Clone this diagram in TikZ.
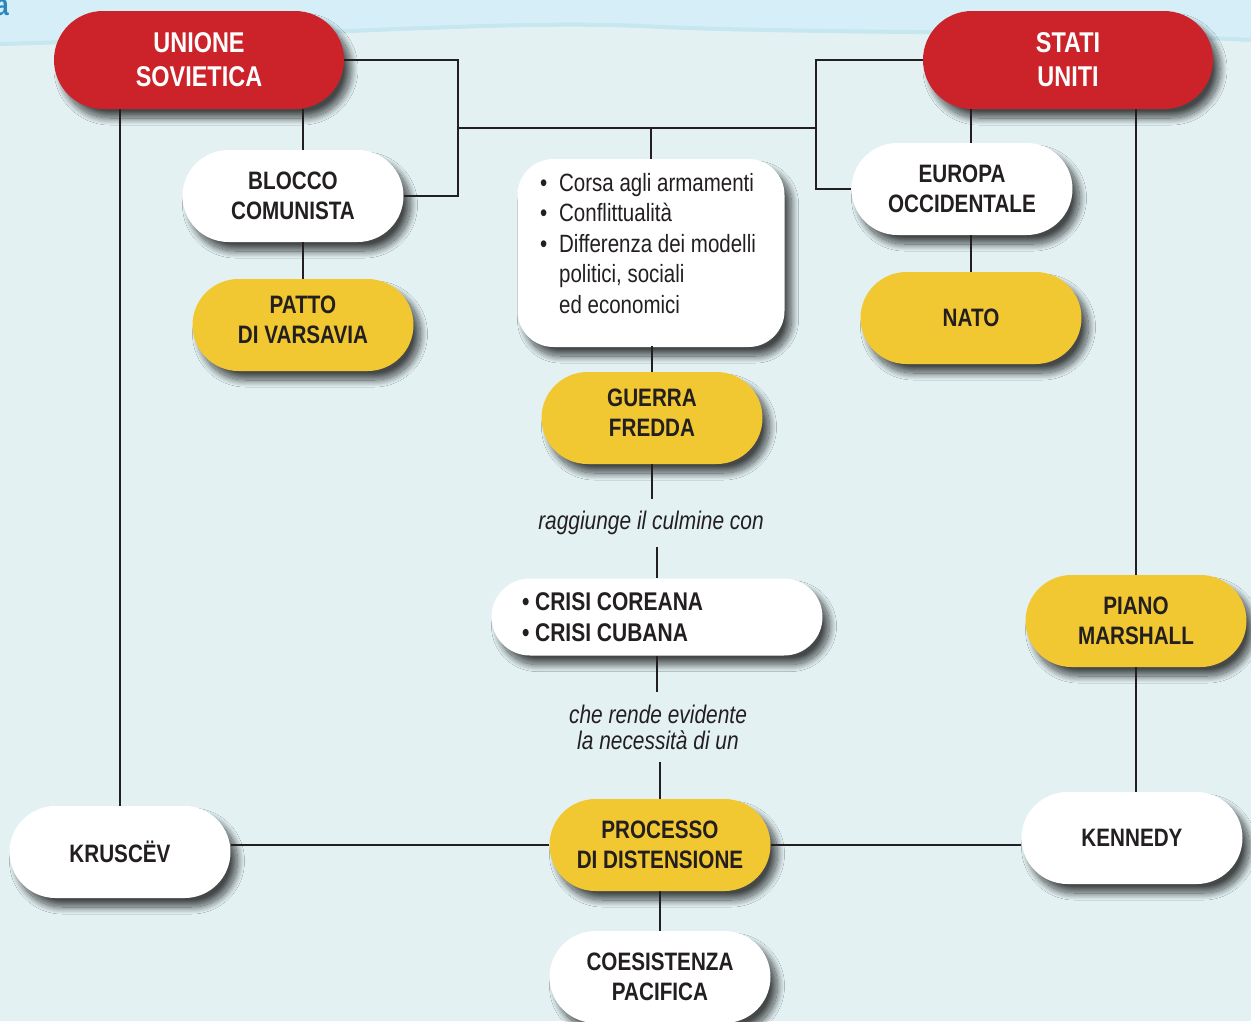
\documentclass[tikz,border=0pt]{standalone}
\usepackage{fontspec}
\setmainfont[FakeStretch=0.82]{Liberation Sans}
\usetikzlibrary{shapes.misc,shadows.blur}
\definecolor{rosso}{HTML}{CC2229}
\definecolor{giallo}{HTML}{F2C832}
\definecolor{fondo}{HTML}{E3F1F3}
\definecolor{onda}{HTML}{D6EEF7}
\definecolor{ondabordo}{HTML}{C6E6F0}
\definecolor{linea}{HTML}{231F20}
\definecolor{titolo}{HTML}{2A86BE}

\begin{document}
\begin{tikzpicture}[x=1pt,y=-1pt,
  every node/.style={font=\fontsize{25.2}{30}\selectfont\bfseries,text=linea,align=center},
  ombra/.style={blur shadow={shadow xshift=7pt,shadow yshift=-9pt,shadow blur radius=7pt,
    shadow blur steps=24,shadow opacity=70}},
  box/.style={shape=rounded rectangle,minimum width=221pt,minimum height=92pt,inner sep=0pt,ombra},
  stato/.style={box,fill=rosso,text=white,minimum width=290pt,minimum height=98pt,
    font=\fontsize{28.6}{34}\selectfont\bfseries},
  bianco/.style={box,fill=white},
  gialla/.style={box,fill=giallo},
  su/.style={text depth=11pt},
  lista/.style={shape=rectangle,rounded corners=36pt,fill=white,minimum width=267pt,minimum height=188pt,
    inner sep=0pt,font=\fontsize{25}{30.5}\selectfont,ombra},
  nota/.style={font=\fontsize{25.5}{26}\selectfont\itshape,inner sep=12pt},
  conn/.style={draw=linea,line width=2.6pt}]
\useasboundingbox (0,0) rectangle (1251,1021);
\fill[fondo] (0,0) rectangle (1251,1021);
\fill[onda] (0,0) -- (1251,0) -- (1251,40) .. controls (1050,30) and (800,34) .. (640,26)
  .. controls (500,20) and (300,36) .. (0,44) -- cycle;
\draw[ondabordo,line width=4pt] (1251,40) .. controls (1050,30) and (800,34) .. (640,26)
  .. controls (500,20) and (300,36) .. (0,44);
\node[anchor=base east,inner sep=0pt,text=titolo,font=\fontsize{30}{30}\selectfont\bfseries] (t0) at (9,15) {a};

\node[stato] (a1) at (199,60) {UNIONE\\SOVIETICA};
\node[stato] (a2) at (1068,60) {STATI\\UNITI};
\node[bianco] (a3) at (293,196) {BLOCCO\\COMUNISTA};
\node[gialla,su] (a4) at (303,325) {PATTO\\DI VARSAVIA};
\node[bianco] (a5) at (962,189) {EUROPA\\OCCIDENTALE};
\node[gialla] (a6) at (971,318) {NATO};
\node[lista] (a7) at (651,253) {\begin{minipage}[c][166pt][t]{222pt}\raggedright
  \begin{tabular}[t]{@{}l@{\hspace{12pt}}l@{}}
  \textbullet & Corsa agli armamenti\\
  \textbullet & Conflittualità\\
  \textbullet & Differenza dei modelli\\
   & politici, sociali\\
   & ed economici
  \end{tabular}\end{minipage}};
\node[gialla,su] (a8) at (652,418) {GUERRA\\FREDDA};
\node[bianco,minimum width=331pt,minimum height=77pt,font=\fontsize{25.6}{31}\selectfont\bfseries] (a9) at (657,617)
  {\begin{minipage}{270pt}\raggedright \textbullet\ CRISI COREANA\\ \textbullet\ CRISI CUBANA\end{minipage}};
\node[gialla] (a10) at (1136,621) {PIANO\\MARSHALL};
\node[bianco] (a11) at (120,852) {KRUSCËV};
\node[gialla] (a12) at (660,845) {PROCESSO\\DI DISTENSIONE};
\node[bianco] (a13) at (1132,838) {KENNEDY};
\node[bianco] (a14) at (660,977) {COESISTENZA\\PACIFICA};
\node[nota] (t1) at (651,523) {raggiunge il culmine con};
\node[nota] (t2) at (658,727) {che rende evidente\\la necessità di un};

\coordinate (b1) at (458,128);
\coordinate (b2) at (816,128);

\draw[conn] (a1.south -| a11.north) -- (a11.north);
\draw[conn] (a1.south -| a4.north) -- (a3.north -| a4.north);
\draw[conn] (a3.south -| a4.north) -- (a4.north);
\draw[conn] (a1.east) -| (b1) |- (a3.east);
\draw[conn] (b1) -- (b2);
\draw[conn] (a2.west) -| (b2) |- (a5.west);
\draw[conn] (a7.north) -- (a7.north |- b1);
\draw[conn] (a2.south -| a6.north) -- (a5.north -| a6.north);
\draw[conn] (a5.south -| a6.north) -- (a6.north);
\draw[conn] (a2.south -| a10.north) -- (a10.north);
\draw[conn] (a10.south) -- (a10.south |- a13.north);
\draw[conn] (a7.south) -- (a8.south |- a7.south) -- (a8.north);
\draw[conn] (a8.south) -- (a8.south |- t1.north);
\draw[conn] (a9.north |- t1.south) -- (a9.north);
\draw[conn] (a9.south) -- (a9.south |- t2.north);
\draw[conn] (t2.south -| a12.north) -- (a12.north);
\draw[conn] (a12.west) -- (a12.west -| a11.east);
\draw[conn] (a12.east) -- (a12.east -| a13.west);
\draw[conn] (a12.south) -- (a14.north);
\end{tikzpicture}
\end{document}
